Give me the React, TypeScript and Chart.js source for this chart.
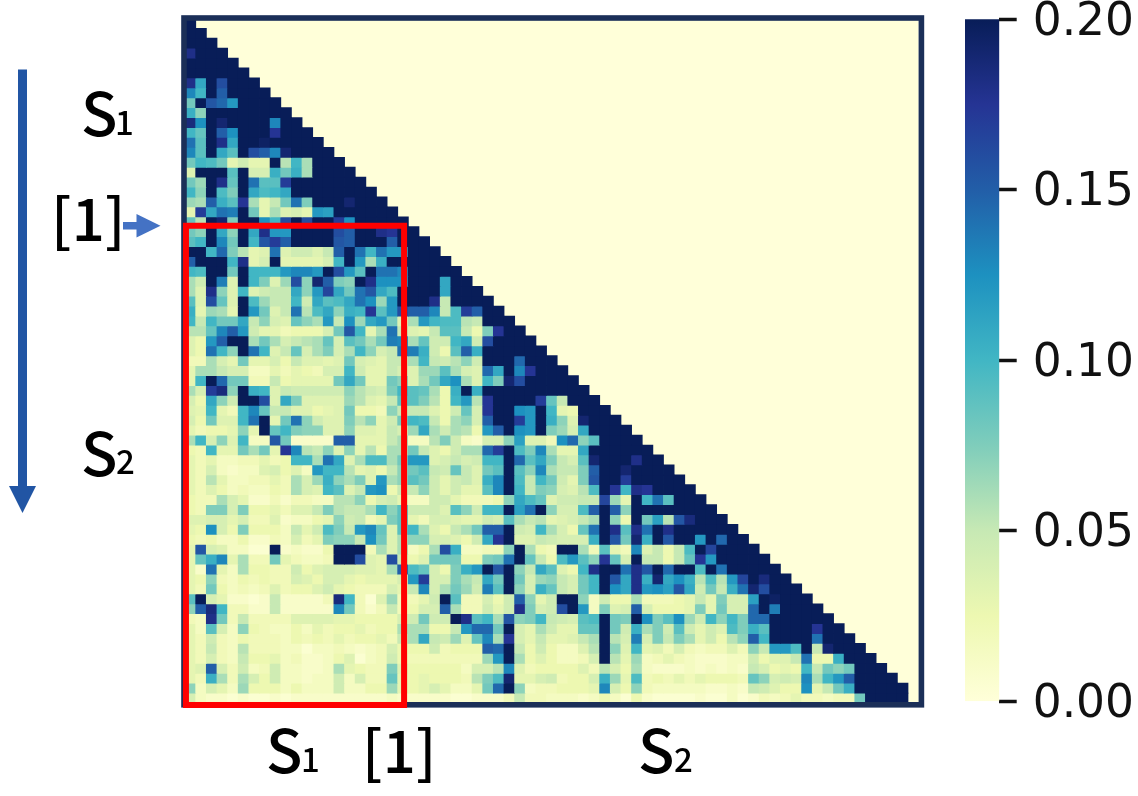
import React, { useEffect, useRef } from "react";
import { Chart, registerables } from "chart.js";

Chart.register(...registerables);

// values are in hundredths: 20 means 0.20 (the top of the colour scale)
const row0 = [20];
const row1 = [20, 20];
const row2 = [20, 20, 20];
const row3 = [18, 20, 20, 20];
const row4 = [20, 20, 20, 20, 20];
const row5 = [20, 20, 20, 20, 20, 20];
const row6 = [18, 11, 20, 16, 20, 20, 20];
const row7 = [13, 10, 20, 15, 20, 20, 20, 20];
const row8 = [8, 20, 15.5, 14.5, 12, 20, 20, 20, 20];
const row9 = [10.5, 7, 20, 20, 20, 20, 20, 20, 20, 20];
const row10 = [18.5, 12.5, 20, 19, 20, 20, 20, 20, 13, 20, 20];
const row11 = [10, 8.5, 20, 15, 12.5, 20, 20, 20, 17.5, 20, 20, 20];
const row12 = [14, 9, 20, 18, 11, 20, 20, 19.5, 20, 20, 20, 20, 20];
const row13 = [13, 9, 20, 11, 9, 20, 16, 15, 13, 19, 20, 20, 20, 20];
const row14 = [8, 10, 9.5, 8, 3, 4.5, 3, 3, 20, 5.5, 10, 6, 20, 20, 20];
const row15 = [3.5, 20, 20, 20, 9, 20, 4, 4, 10.5, 8, 10.5, 6, 20, 20, 20, 20];
const row16 = [8, 6.5, 20, 18, 8.5, 20, 14, 9, 9, 17, 20, 20, 20, 20, 20, 20, 20];
const row17 = [10, 7, 20, 9.5, 7.5, 20, 11, 9.5, 10, 11, 20, 20, 20, 20, 20, 20, 20, 20];
const row18 = [6.5, 6, 15, 10.5, 9, 17.5, 6, 3, 5, 8, 14, 7.5, 20, 20, 20, 19, 20, 20, 20];
const row19 = [3, 17, 11, 14, 13.5, 20, 8, 3, 6, 3.5, 4, 3, 12, 11.5, 20, 20, 20, 20, 20, 20];
const row20 = [8.5, 5.5, 20, 19, 7.5, 20, 20, 12.5, 10, 16, 20, 16, 20, 20, 17, 12.5, 20, 20, 20, 20, 20];
const row21 = [8, 7, 20, 11, 7, 20, 11, 18, 12, 12, 20, 20, 20, 20, 16, 15, 20, 20, 18, 17.5, 20, 20];
const row22 = [9, 10, 20, 13, 8, 20, 10, 15.5, 17, 15, 20, 20, 20, 20, 15.5, 15, 20, 20, 20, 15, 20, 20, 20];
const row23 = [20, 20, 10, 14.5, 7.5, 5.5, 3, 3.5, 14, 3.5, 4.5, 4.5, 3.5, 5, 15, 20, 14, 10, 14, 12, 12, 20, 20, 20];
const row24 = [15, 20, 20, 20, 10, 18, 3, 4, 20, 3, 3, 3, 3, 4, 10, 20, 12, 6, 10.5, 20, 20, 20, 20, 20, 20];
const row25 = [10, 9.5, 20, 20, 8, 20, 10, 10, 10, 12, 13, 13, 12, 20, 16, 12, 9, 20, 14, 14, 13, 20, 20, 20, 20, 20];
const row26 = [6, 4.5, 20, 13.5, 3.5, 20, 10, 7.5, 3.5, 6.5, 16, 7, 19, 15, 7.5, 7, 20, 18, 12.5, 12.5, 12.5, 20, 20, 20, 11, 20, 20];
const row27 = [6, 3.5, 18, 7, 3.5, 10, 3.5, 4.5, 5, 5, 11, 7, 12, 16.5, 11, 8, 14, 15.5, 11, 9.5, 20, 20, 20, 20, 11, 20, 20, 20];
const row28 = [9, 3.5, 16, 8.5, 3.5, 20, 9.5, 6.5, 5, 5, 10, 4.5, 11, 9, 9.5, 11, 14, 12.5, 6.5, 12, 20, 20, 20, 18, 5, 20, 20, 20, 20];
const row29 = [10.5, 3, 6.5, 6, 3, 20, 12, 8, 3.5, 5, 14, 5.5, 9.5, 11, 7, 10.5, 10, 17.5, 9, 12, 16, 15, 15, 13, 5, 9.5, 17, 15, 20, 20];
const row30 = [10, 5, 10, 8, 8, 11, 5, 7, 4, 3.5, 8.5, 7, 6, 12, 5, 12.5, 6.5, 11, 12, 8, 3.5, 6, 12, 10, 9.5, 9.5, 5.5, 5, 20, 20, 20];
const row31 = [5.5, 5.5, 8.5, 13, 15, 12, 4.5, 3, 3, 2, 2.5, 2.5, 2.5, 4, 8, 15.5, 10, 3, 6, 14, 5, 3.5, 3, 5, 9, 9, 5, 2.5, 7.5, 17.5, 20, 20];
const row32 = [3.5, 2.5, 12, 15, 20, 20, 6, 8, 6, 4, 5, 5.5, 6, 8.5, 4, 9, 8, 6, 8, 13.5, 13, 6, 8.5, 4.5, 4.5, 10, 11, 4.5, 16, 20, 20, 20, 20];
const row33 = [3.5, 2.5, 14, 10, 7, 20, 14, 10, 3.5, 5, 8.5, 4, 6, 7.5, 4, 6, 10, 7, 4, 5, 14, 13.5, 10.5, 4.5, 2.5, 9, 15, 10.5, 20, 20, 20, 20, 20, 20];
const row34 = [2, 2, 6, 4, 3, 8, 3, 3, 4, 2.5, 5, 3.5, 3.5, 3, 3.5, 8, 4, 3.5, 3, 5, 5, 6, 10, 5, 4.5, 5.5, 7, 4.5, 20, 20, 20, 14.5, 20, 20, 20];
const row35 = [3, 6, 6, 5, 4, 4, 1.5, 1.5, 3, 2, 3, 2.5, 2, 4, 4, 10, 4.5, 3, 3, 5, 4, 3.5, 6.5, 6.5, 9, 6, 4, 3.5, 14.5, 11, 20, 13, 17.5, 20, 20, 20];
const row36 = [3, 10, 20, 14.5, 8, 8, 2, 2, 5, 2.5, 3, 3, 3, 3, 8, 11, 8, 3, 3, 8, 7, 3.5, 6, 8, 11, 12.5, 6, 3.5, 10, 7.5, 19, 16, 20, 20, 20, 20, 20];
const row37 = [6, 4, 17, 18.5, 7, 20, 10.5, 10, 3.5, 5, 4.5, 4.5, 4.5, 4.5, 4.5, 7, 5.5, 4.5, 4, 7.5, 10, 9, 8.5, 6, 2.5, 10.5, 20, 10.5, 20, 20, 20, 20, 20, 20, 20, 20, 20, 20];
const row38 = [4, 2.5, 11, 7, 4.5, 20, 20, 16, 3.5, 11, 7.5, 3.5, 3.5, 3.5, 3.5, 6.5, 5.5, 3.5, 3, 5, 9, 9, 7.5, 5.5, 2.5, 10, 12, 5.5, 17.5, 20, 20, 20, 20, 17, 8.5, 5, 20, 20, 20];
const row39 = [3.5, 3, 10, 3, 2, 10, 13, 8.5, 5, 5, 3.5, 3.5, 2.5, 3, 3.5, 8, 2.5, 2.5, 2, 7, 5, 5, 5, 3.5, 2.5, 4.5, 8.5, 4, 17.5, 20, 20, 12.5, 12, 20, 10, 3, 2.5, 20, 20, 20];
const row40 = [4, 2.5, 8, 3.5, 3.5, 10, 14, 20, 3, 8, 14, 7, 4.5, 3.5, 3.5, 7.5, 5.5, 7, 3, 4.5, 8, 10, 9.5, 5, 2.5, 6, 7, 4, 15, 20, 20, 17, 12, 20, 10.5, 7, 3.5, 19, 20, 20, 20];
const row41 = [3, 2, 2.5, 2.5, 3, 7, 3, 20, 8.5, 10, 7.5, 7, 7, 3.5, 3.5, 7, 3.5, 3.5, 3, 5, 4, 6.5, 11, 6, 4.5, 6, 5.5, 2.5, 12, 15, 20, 12.5, 12, 20, 7.5, 6.5, 4, 11, 20, 20, 20, 20];
const row42 = [6, 10, 4, 7, 3.5, 10, 1.5, 1.5, 15.5, 8, 1, 1, 1, 1, 15, 15, 3, 3, 3, 5, 6, 1.5, 1.5, 5.5, 7.5, 4.5, 1.5, 1, 4, 4, 7, 11.5, 3.5, 3.5, 2, 12.5, 14.5, 7, 9, 20, 20, 20, 20];
const row43 = [2.5, 2, 10, 3, 3, 8, 6, 8, 3, 17.5, 13, 5.5, 5, 7, 3.5, 7, 3, 5.5, 2.5, 6, 6, 8, 5, 3.5, 2.5, 4.5, 6, 6, 14.5, 17, 20, 9.5, 7.5, 13, 6, 3, 3, 11, 20, 20, 20, 20, 20, 20];
const row44 = [3, 2, 3, 1.5, 1.5, 2, 2, 3, 2, 2.5, 10, 10, 6, 14, 11, 3.5, 6, 9.5, 9.5, 6, 8, 12, 12, 3.5, 4, 5, 4, 4.5, 10, 10, 20, 14.5, 9, 11, 7.5, 5, 4, 9, 19, 20, 20, 20, 18, 20, 20];
const row45 = [3, 2, 4, 1.5, 1, 1.5, 1.5, 3.5, 4, 2.5, 3.5, 1.5, 12, 10, 10, 5.5, 3, 3.5, 2.5, 5, 7, 8, 9, 5, 4.5, 8.5, 5, 3.5, 8, 9, 20, 9, 7, 13, 6, 5, 5, 7.5, 15, 20, 20, 19, 20, 20, 20, 20];
const row46 = [3, 2, 5.5, 3, 1.5, 1.5, 2, 2, 3, 2, 6, 4, 6.5, 10.5, 7, 6, 7.5, 3.5, 12, 6, 7, 9, 8, 4.5, 3, 4.5, 5, 3.5, 10.5, 13, 20, 9.5, 5, 10, 8, 4.5, 3, 7.5, 15.5, 20, 20, 17, 20, 20, 20, 20, 20];
const row47 = [3, 2, 3.5, 2.5, 1.5, 2, 1.5, 1.5, 2.5, 2, 6, 4, 3.5, 10, 9, 3.5, 5, 12, 12.5, 2.5, 5, 5, 7, 4.5, 3, 4.5, 3, 3, 9, 13, 20, 10, 5, 7.5, 7, 4, 3.5, 5.5, 9.5, 20, 17.5, 10, 18, 17.5, 20, 20, 20, 20];
const row48 = [2.5, 2, 2, 6, 4, 3, 1, 1, 2, 1, 2, 2, 1.5, 1.5, 5.5, 5.5, 7, 2.5, 4, 4.5, 3, 1.5, 1.5, 4.5, 4.5, 3, 2, 2, 2, 2.5, 7, 11, 9.5, 8.5, 3.5, 4.5, 4.5, 5, 5, 16.5, 6.5, 3, 20, 10, 14, 9, 20, 20, 20];
const row49 = [2.5, 2, 7.5, 7.5, 4, 7.5, 2.5, 2.5, 3, 2, 3.5, 3.5, 5, 7.5, 5.5, 5, 5, 6, 10, 7, 9, 4.5, 4.5, 4.5, 3.5, 9, 7, 4.5, 10, 10, 20, 11.5, 14, 20, 7, 4, 4, 9.5, 15, 20, 15, 7, 20, 20, 20, 20, 20, 20, 20, 20];
const row50 = [3.5, 3.5, 4, 4, 3, 4, 2, 2, 3.5, 1, 1.5, 1.5, 2.5, 3, 7, 4.5, 5, 2, 3, 7.5, 9, 3, 2, 4, 4, 3.5, 3, 3, 4.5, 4, 9, 6, 5, 5.5, 3, 3.5, 4, 5, 6, 20, 7, 2.5, 20, 8, 11.5, 5.5, 15.5, 18.5, 20, 20, 20];
const row51 = [3, 2.5, 12.5, 4, 2.5, 7.5, 2.5, 2.5, 2.5, 1.5, 5, 3, 4.5, 9.5, 7.5, 5, 12, 13, 8.5, 3.5, 9, 10, 6, 3.5, 2.5, 5, 6, 8, 15, 15, 20, 4.5, 4, 10, 6, 4, 2.5, 8.5, 14, 20, 18, 9, 18, 14, 20, 18, 20, 20, 20, 20, 20, 20];
const row52 = [2.5, 2, 2.5, 1.5, 1.5, 2.5, 1, 1, 2, 1.5, 4, 2, 3, 7.5, 7, 7, 5, 12.5, 8, 3.5, 6, 7, 7, 4, 4, 3.5, 2.5, 4.5, 11, 17.5, 20, 3.5, 3.5, 5, 4.5, 4, 4, 4, 10.5, 20, 15.5, 8, 19, 10.5, 20, 15.5, 20, 20, 12, 20, 14.5, 20, 20];
const row53 = [3, 15.5, 4, 3.5, 1.5, 1.5, 0.5, 0.5, 20, 1, 1.5, 1, 1, 2.5, 20, 20, 20, 2, 6, 3.5, 6, 1.5, 2.5, 6, 16, 10.5, 1.5, 1.5, 2, 2, 7, 20, 6, 2.5, 2, 20, 20, 6, 2, 9, 3, 2, 13, 3.5, 5, 2.5, 5, 9.5, 20, 16.5, 20, 20, 20, 20];
const row54 = [3, 8.5, 10.5, 13, 3, 6, 2, 2, 8, 3, 2, 1.5, 1.5, 2, 20, 20, 16, 3.5, 3, 16, 5, 2.5, 3.5, 8, 8, 8, 2.5, 2.5, 7.5, 8, 14, 20, 8.5, 5, 2.5, 9.5, 12, 9, 7, 17.5, 8.5, 4, 20, 5, 5, 2.5, 5, 8.5, 17.5, 12, 20, 20, 20, 20, 20];
const row55 = [3, 1, 14, 3, 1.5, 6, 2.5, 2.5, 2, 2, 4.5, 2.5, 3.5, 4, 4, 4, 3.5, 3.5, 3, 6, 15, 9.5, 8.5, 4, 2.5, 7.5, 10.5, 12, 20, 15.5, 20, 7, 5, 11, 9, 3.5, 2.5, 10, 18, 20, 20, 14, 18, 15.5, 20, 14.5, 20, 20, 9.5, 20, 14, 20, 20, 20, 20, 20];
const row56 = [3, 2.5, 7, 2, 1.5, 2.5, 2, 2.5, 2, 2, 4, 3.5, 2.5, 4, 4, 3, 2.5, 3, 3, 3, 4, 12, 17, 4, 4, 7.5, 6, 5, 11, 8, 20, 8, 4, 6.5, 7, 5, 4, 8, 10, 20, 15.5, 11, 18, 10.5, 19, 11, 12.5, 10.5, 5.5, 9.5, 5.5, 12, 16.5, 20, 18.5, 20, 20];
const row57 = [3, 2, 8, 2.5, 1.5, 2, 1.5, 2, 3.5, 2, 2.5, 2.5, 3.5, 4.5, 3, 2.5, 2, 2, 2, 4, 3, 5, 13, 4, 6, 8, 6.5, 4.5, 13.5, 9, 20, 7, 4, 10.5, 8.5, 5, 4, 8, 10, 20, 12.5, 11, 18, 12, 12.5, 11.5, 15.5, 11, 4.5, 8, 5, 10.5, 14, 19, 16, 20, 20, 20];
const row58 = [9, 20, 4, 3, 1, 1, 0.5, 1, 5, 1, 1, 1, 1, 2, 18.5, 10, 2, 0.5, 3.5, 6.5, 2, 2, 3, 4.5, 20, 9, 2, 2, 4, 2.5, 4.5, 15, 7, 3, 4.5, 20, 20, 7, 1.5, 4.5, 2.5, 2.5, 6, 2, 2, 2, 2.5, 3, 5, 3, 7.5, 4, 4, 11.5, 20, 19.5, 20, 20, 20];
const row59 = [7, 15, 18.5, 10, 2, 2, 1, 1, 5, 1, 1, 1, 1, 1, 13, 8, 2, 1, 2, 5, 2, 2.5, 4, 4, 15, 6, 2, 2, 4.5, 3, 4.5, 18, 7.5, 4, 4.5, 16, 20, 12, 1.5, 7.5, 3.5, 4, 15, 4, 2.5, 2.5, 2.5, 3, 7.5, 3, 8, 4, 4, 14.5, 20, 13.5, 20, 20, 20, 20];
const row60 = [2, 1.5, 18, 8, 2, 5, 2, 2, 2, 2, 3.5, 3.5, 3.5, 3.5, 3, 3, 2.5, 2.5, 2.5, 2.5, 4, 4.5, 8, 4.5, 4.5, 20, 18, 9, 10, 6, 15.5, 7, 7.5, 10, 5, 4.5, 4, 9, 9.5, 20, 8, 7.5, 20, 12.5, 7.5, 9, 12.5, 6.5, 4.5, 10, 7, 10, 7.5, 14.5, 14.5, 20, 20, 20, 20, 20, 20];
const row61 = [3, 1.5, 9, 4, 1.5, 7, 2.5, 2, 1.5, 1.5, 2.5, 1.5, 3, 2, 2.5, 2.5, 3, 2, 2.5, 2.5, 6, 6, 6, 2.5, 2.5, 5, 12, 14.5, 14.5, 8, 20, 4, 3, 6, 4.5, 3, 3, 8.5, 8.5, 20, 8, 4.5, 10.5, 6, 7.5, 4.5, 9, 4.5, 3, 4.5, 3.5, 9.5, 7.5, 10.5, 9, 20, 20, 20, 20, 17.5, 20, 20];
const row62 = [3, 2, 4.5, 2, 1.5, 2.5, 2, 2, 2, 1.5, 2.5, 2, 2.5, 2, 3, 2, 2.5, 2.5, 3, 2, 5, 6, 11, 5, 4.5, 6.5, 3.5, 8.5, 13, 6, 17.5, 4, 3, 5, 3, 3, 3.5, 5, 6, 20, 5.5, 4, 13.5, 4, 7.5, 5, 7.5, 6, 3, 4.5, 2.5, 5.5, 7, 15, 10, 20, 20, 20, 20, 14, 20, 20, 20];
const row63 = [3, 2, 5, 2, 1.5, 5.5, 2, 2, 2, 1.5, 1.5, 0.5, 1.5, 1.5, 2, 1.5, 1, 1.5, 2, 4, 2.5, 2.5, 2.5, 4.5, 2, 2.5, 2.5, 2.5, 15, 14.5, 20, 5, 2.5, 4.5, 2.5, 1.5, 1.5, 3.5, 5.5, 20, 7, 3.5, 10, 3, 3.5, 2, 4, 2, 1.5, 2, 2, 3.5, 2, 7, 5, 12, 12, 9.5, 20, 5, 19, 20, 20, 20];
const row64 = [3, 2, 4, 2, 1.5, 5, 2.5, 2.5, 3, 1.5, 2, 1, 1, 1.5, 2.5, 3.5, 0.5, 1.5, 2, 4.5, 2.5, 2, 2, 2, 2, 2, 2, 2, 6.5, 12, 20, 6, 2.5, 3.5, 2.5, 1.5, 1.5, 2, 4, 20, 5.5, 3, 6.5, 1.5, 2, 3, 2, 1.5, 1, 1, 1, 1.5, 1.5, 4.5, 2.5, 3.5, 3.5, 5, 14, 2.5, 2.5, 10.5, 20, 20, 20];
const row65 = [3, 3.5, 15, 4, 2, 4.5, 1.5, 2, 4.5, 1.5, 1.5, 1, 1, 1.5, 6, 3, 2.5, 2, 2, 7.5, 3.5, 2.5, 2.5, 2.5, 2.5, 2.5, 1.5, 4, 4, 5.5, 13, 3.5, 2, 2.5, 2.5, 2.5, 2.5, 3.5, 2, 5.5, 4, 2.5, 6, 1.5, 1, 1, 1, 1.5, 1, 1.5, 1, 1.5, 1, 5, 4, 2.5, 3, 2.5, 10, 5, 8, 7, 8, 20, 20, 20];
const row66 = [3, 2, 10.5, 6, 2, 6, 4, 2.5, 4.5, 1.5, 1.5, 1, 1.5, 1.5, 4.5, 1.5, 4, 2, 2, 8.5, 3, 2.5, 3, 2.5, 2.5, 2.5, 2, 5.5, 7.5, 9.5, 19, 3, 3, 4, 4.5, 2, 2.5, 2.5, 4, 10.5, 6.5, 3, 9.5, 2, 2.5, 2, 3, 2, 3, 2.5, 2.5, 2.5, 2, 8.5, 7, 4, 4.5, 4, 13, 6, 10, 12, 15, 20, 20, 20, 20];
const row67 = [7, 1.5, 4, 3, 1.5, 6.5, 2.5, 2.5, 2.5, 1.5, 2.5, 1.5, 1.5, 1.5, 4.5, 1.5, 1.5, 2.5, 2.5, 6.5, 3, 2.5, 3, 4, 3, 1.5, 1.5, 3, 8, 14.5, 20, 7, 1.5, 2, 2, 2.5, 2.5, 2.5, 3, 13, 4, 2.5, 7, 2, 1.5, 1.5, 1.5, 1.5, 1.5, 1, 1, 1.5, 1, 5, 4.5, 3.5, 2.5, 2.5, 12.5, 3, 5, 8, 10.5, 20, 20, 20, 20, 20];
const row68 = [4, 1.5, 1, 1, 0.5, 1, 0.5, 0.5, 1, 0.5, 1, 1, 1, 1, 1, 1, 1, 1, 1, 1.5, 1, 1, 1, 1, 1, 0.5, 0.5, 1, 1, 1, 2, 5, 2, 2, 1.5, 1.5, 1.5, 1, 1.5, 2.5, 1.5, 0.5, 2.5, 1, 0.5, 0.5, 0.5, 0.5, 1, 0.5, 0.5, 1.5, 0.5, 1, 2, 1.5, 2, 3, 2, 2, 1.5, 2, 2, 8, 20, 20, 20, 20];

const rows = [
  row0, row1, row2, row3, row4, row5, row6, row7, row8, row9,
  row10, row11, row12, row13, row14, row15, row16, row17, row18, row19,
  row20, row21, row22, row23, row24, row25, row26, row27, row28, row29,
  row30, row31, row32, row33, row34, row35, row36, row37, row38, row39,
  row40, row41, row42, row43, row44, row45, row46, row47, row48, row49,
  row50, row51, row52, row53, row54, row55, row56, row57, row58, row59,
  row60, row61, row62, row63, row64, row65, row66, row67, row68,
];

const columnCount = 69;
const columns = Array.from({ length: columnCount }, (_, i) => String(i));

// the "[1]" block: columns 0 to 20.6, rows 20.9 to the bottom
const blockColumns = [0.08, 20.6];
const blockRows = [20.9, 69.2];

const colorStops = ["#ffffd9", "#edf8b1", "#c7e9b4", "#7fcdbb", "#41b6c4", "#1d91c0", "#225ea8", "#253494", "#081d58"];
const colorScaleMax = 0.2;
const colorScaleStep = 0.05;

const labels = [
  { text: "S", x: 81, y: 136, size: 60 },
  { text: "1", x: 115, y: 135, size: 33 },
  { text: "S", x: 81, y: 476, size: 60 },
  { text: "2", x: 116, y: 474, size: 33 },
  { text: "S", x: 266, y: 773, size: 60 },
  { text: "1", x: 301, y: 772, size: 33 },
  { text: "S", x: 638, y: 773, size: 60 },
  { text: "2", x: 674, y: 772, size: 33 },
  { text: "[1]", x: 51, y: 241, size: 58 },
  { text: "[1]", x: 362, y: 773, size: 58 },
];

const FONT = '500 SIZEpx "Noto Sans CJK JP", "Noto Sans", sans-serif';

function hexToRgb(h: string) {
  return [parseInt(h.slice(1, 3), 16), parseInt(h.slice(3, 5), 16), parseInt(h.slice(5, 7), 16)];
}

function colorFor(v: number) {
  const t = Math.max(0, Math.min(1, v / 20)) * (colorStops.length - 1);
  const i = Math.min(colorStops.length - 2, Math.floor(t));
  const f = t - i;
  const a = hexToRgb(colorStops[i]);
  const b = hexToRgb(colorStops[i + 1]);
  const c = a.map((p, k) => Math.round(p + (b[k] - p) * f));
  return `rgb(${c[0]},${c[1]},${c[2]})`;
}

const backdropPlugin = {
  id: "backdrop",
  beforeDatasetsDraw(chart: any) {
    const { ctx, chartArea: a } = chart;
    ctx.save();
    ctx.fillStyle = colorStops[0];
    ctx.fillRect(a.left, a.top, a.right - a.left, a.bottom - a.top);
    ctx.restore();
  },
};

const overlayPlugin = {
  id: "overlay",
  afterDraw(chart: any) {
    const { ctx, scales } = chart;
    ctx.save();
    // frame
    ctx.strokeStyle = "#1b2f58";
    ctx.lineWidth = 5.6;
    ctx.strokeRect(184, 18, 737.4, 686.8);
    // red block, placed through the scales
    const cw = scales.x.getPixelForValue(1) - scales.x.getPixelForValue(0);
    const x0 = scales.x.getPixelForValue(0) - cw / 2 + blockColumns[0] * cw;
    const x1 = scales.x.getPixelForValue(0) - cw / 2 + blockColumns[1] * cw;
    const y0 = scales.y.getPixelForValue(blockRows[0]);
    const y1 = scales.y.getPixelForValue(blockRows[1]);
    ctx.strokeStyle = "#ff0000";
    ctx.lineWidth = 6;
    ctx.strokeRect(x0, y0, x1 - x0, y1 - y0);
    // long arrow
    ctx.fillStyle = "#2155a4";
    ctx.fillRect(18, 69.5, 9, 417);
    ctx.beginPath();
    ctx.moveTo(9, 486);
    ctx.lineTo(36, 486);
    ctx.lineTo(22.5, 513);
    ctx.closePath();
    ctx.fill();
    // short arrow
    ctx.fillStyle = "#4472c4";
    ctx.fillRect(123, 222, 14, 7.5);
    ctx.beginPath();
    ctx.moveTo(136.5, 214);
    ctx.lineTo(160.5, 225.8);
    ctx.lineTo(136.5, 237.6);
    ctx.closePath();
    ctx.fill();
    // text
    ctx.fillStyle = "#000";
    ctx.textBaseline = "alphabetic";
    ctx.textAlign = "left";
    for (const l of labels) {
      ctx.font = FONT.replace("SIZE", String(l.size));
      ctx.fillText(l.text, l.x, l.y);
    }
    ctx.restore();
  },
};

export default function App() {
  const heatRef = useRef<HTMLCanvasElement>(null);
  const barRef = useRef<HTMLCanvasElement>(null);

  useEffect(() => {
    const heat = new Chart(heatRef.current!, {
      type: "bar",
      data: {
        labels: columns,
        datasets: rows.map((values, r) => ({
          data: values.map(() => [r, r + 1]),
          backgroundColor: values.map(colorFor),
          borderWidth: 0,
          grouped: false,
          barPercentage: 1,
          categoryPercentage: 1,
          inflateAmount: 0.4,
        })) as any,
      },
      options: {
        responsive: false,
        animation: false,
        layout: { padding: { left: 185.1, top: 18.4, right: 219.4, bottom: 93 } },
        plugins: { legend: { display: false }, tooltip: { enabled: false } },
        scales: {
          x: { type: "category", display: false },
          y: { type: "linear", display: false, min: 0, max: 69, reverse: true },
        },
      },
      plugins: [backdropPlugin, overlayPlugin],
    });

    const bar = new Chart(barRef.current!, {
      type: "bar",
      data: {
        labels: ["scale"],
        datasets: [
          {
            data: [[0, colorScaleMax]],
            borderWidth: 0,
            barPercentage: 1,
            categoryPercentage: 1,
            backgroundColor: (c: any) => {
              const a = c.chart.chartArea;
              if (!a) return colorStops[0];
              const g = c.chart.ctx.createLinearGradient(0, a.bottom, 0, a.top);
              colorStops.forEach((s, i) => g.addColorStop(i / (colorStops.length - 1), s));
              return g;
            },
          } as any,
        ],
      },
      options: {
        responsive: false,
        animation: false,
        layout: { padding: { left: 15, top: 49.3, right: 0, bottom: 124.7 } },
        plugins: { legend: { display: false }, tooltip: { enabled: false } },
        scales: {
          x: { type: "category", display: false },
          y: {
            type: "linear",
            position: "right",
            min: 0,
            max: colorScaleMax,
            afterFit: (s: any) => {
              s.width = 138.7;
            },
            border: { display: false },
            grid: { drawOnChartArea: false, drawTicks: true, tickLength: 17.4, tickWidth: 3.5, tickColor: "#111" },
            ticks: {
              stepSize: colorScaleStep,
              padding: 16,
              color: "#111",
              font: { family: '"DejaVu Sans"', size: 45.5, lineHeight: "7px" },
              // the empty first line moves each label down by half a line
              callback: (v: any) => ["", Number(v).toFixed(2)],
            },
          },
        },
      },
    });

    return () => {
      heat.destroy();
      bar.destroy();
    };
  }, []);

  return (
    <div style={{ position: "fixed", left: 0, top: 0, width: 1138, height: 796, overflow: "hidden", background: "#fff" }}>
      <canvas ref={heatRef} width={1138} height={796} style={{ position: "absolute", left: 0, top: 0, filter: "blur(0.4px)" }} />
      <canvas ref={barRef} width={188} height={856} style={{ position: "absolute", left: 950, top: -30, filter: "blur(0.4px)" }} />
    </div>
  );
}
